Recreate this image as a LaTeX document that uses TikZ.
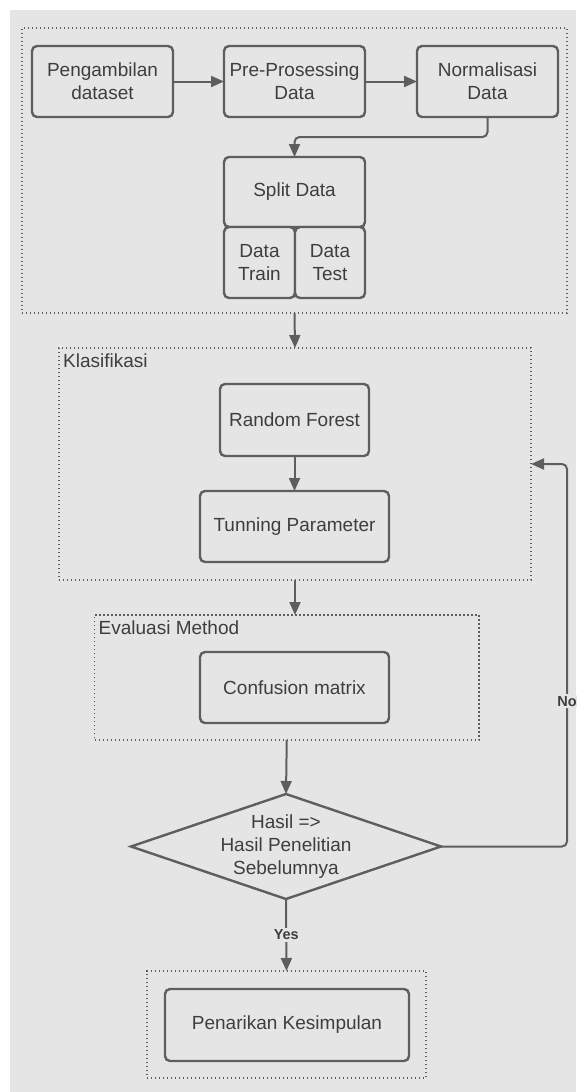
\documentclass[tikz,border=0pt]{standalone}
\usepackage{fontspec}
\setmainfont{Liberation Sans}
\usetikzlibrary{positioning,shapes.geometric,arrows.meta}

\definecolor{bggray}{HTML}{E5E5E5}
\definecolor{linegray}{HTML}{5E5E5E}
\definecolor{textgray}{HTML}{3E3E3E}

\begin{document}
\begin{tikzpicture}[
    x=1pt, y=-1pt,
    node distance=40pt,
    box/.style={
        draw=linegray,
        fill=bggray,
        rounded corners=5pt,
        line width=2.4pt,
        minimum width=141pt,
        minimum height=71pt,
        inner sep=0pt,
        outer sep=0pt,
        align=center,
        text=textgray,
        font=\fontsize{19}{23}\selectfont
    },
    group/.style={
        draw=linegray,
        line width=1.4pt,
        dash pattern=on 1.4pt off 2.6pt,
        inner sep=0pt,
        outer sep=0pt
    },
    grouplabel/.style={
        anchor=north west,
        inner xsep=4pt,
        inner ysep=6pt,
        text=textgray,
        font=\fontsize{19}{23}\selectfont
    },
    decision/.style={
        diamond,
        draw=linegray,
        fill=bggray,
        line width=2.4pt,
        shape aspect=2.95,
        minimum width=310pt,
        minimum height=105pt,
        inner sep=-2pt,
        outer sep=0pt,
        align=center,
        text=textgray,
        font=\fontsize{19}{23}\selectfont
    },
    arrow/.style={
        -{Triangle[length=13pt,width=11pt]},
        draw=linegray,
        line width=2pt
    },
    answer/.style={
        fill=bggray,
        inner sep=2pt,
        text=textgray,
        font=\fontsize{14.5}{17}\selectfont\bfseries
    }
]

\useasboundingbox (0,0) rectangle (576,1092);
\fill[bggray] (10,10) rectangle (576,1092);

% Groups
\node (prep) [group, minimum width=545pt, minimum height=285pt] at (294.5,170.5) {};
\node (klas) [group, minimum width=472pt, minimum height=232pt] at (295,464) {};
\node (klaslbl) [grouplabel] at (klas.north west) {Klasifikasi};
\node (eval) [group, minimum width=384.5pt, minimum height=125pt] at (286.75,677.5) {};
\node (evallbl) [grouplabel] at (eval.north west) {Evaluasi Method};
\node (simp) [group, minimum width=279pt, minimum height=107pt] at (286.5,1024.5) {};

% Nodes
\node (ambil)  [box] at (102.5,81.5)        {Pengambilan\\dataset};
\node (prepro) [box, right=51pt of ambil]   {Pre-Prosessing\\Data};
\node (norm)   [box, right=52pt of prepro]  {Normalisasi\\Data};
\node (split)  [box, minimum height=70pt, below=of prepro] {Split Data};
\node (train)  [box, minimum width=71pt, anchor=north west] at (split.south west) {Data\\Train};
\node (test)   [box, minimum width=70pt, anchor=north east] at (split.south east) {Data\\Test};
\node (rf)     [box, minimum width=149pt, minimum height=72pt] at (294.5,420) {Random Forest};
\node (tune)   [box, minimum width=189pt, below=35pt of rf] {Tunning Parameter};
\node (cm)     [box, minimum width=189pt] at (294.5,687.5) {Confusion matrix};
\node (cek)    [decision] at (286,846.5) {Hasil =>\\Hasil Penelitian\\Sebelumnya};
\node (kes)    [box, minimum width=244pt, minimum height=72pt] at (287,1025) {Penarikan Kesimpulan};
\coordinate (back) at (567,464);

% Arrows
\draw[arrow] (ambil) -- (prepro);
\draw[arrow] (prepro) -- (norm);
\draw[arrow, rounded corners=5pt] (norm.south) -- ++(0,20) -| (split.north);
\draw[arrow] (prep.south) -- (klas.north);
\draw[arrow] (rf) -- (tune);
\draw[arrow] (klas.south) -- (klas.south |- eval.north);
\draw[arrow] (eval.south) -- (cek.north);
\draw[arrow] (cek.south) -- node[answer] (yeslbl) {Yes} (simp.north);
\draw[arrow, rounded corners=5pt] (cek.east) -| node[answer, pos=0.69] (nolbl) {No} (back) -- (klas.east);

\end{tikzpicture}
\end{document}
